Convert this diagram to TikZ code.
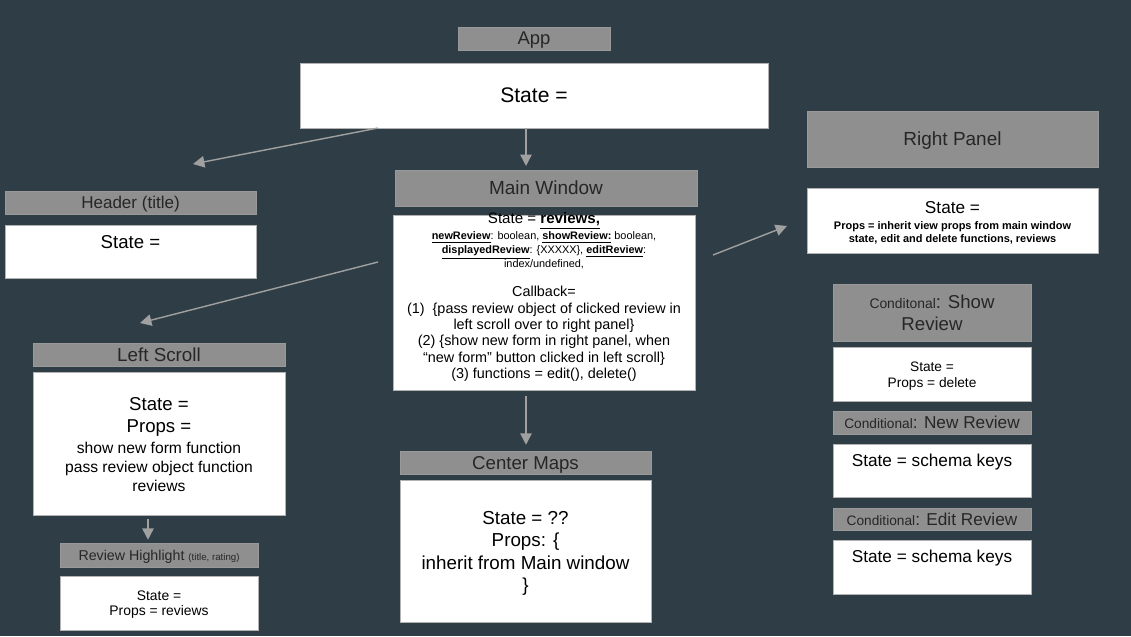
\documentclass[tikz,border=0pt]{standalone}
\usepackage{fontspec}
\setmainfont{Liberation Sans}
\usetikzlibrary{arrows.meta}
\definecolor{bgslate}{HTML}{2F3E46}
\definecolor{titlegray}{HTML}{8F8F8F}
\definecolor{arrowgray}{HTML}{A0A0A0}
\newcommand{\fs}[2]{\fontsize{#1}{#2}\selectfont}
\begin{document}
\begin{tikzpicture}[x=0.02cm,y=-0.02cm,
  titlebox/.style={fill=titlegray, draw=gray!80, line width=0.3pt, inner sep=0pt, text depth=0pt, text=black!85},
  bodybox/.style={fill=white, draw=gray!60, line width=0.3pt, inner sep=0pt, align=center},
  txt/.style={align=center, inner sep=0pt},
  arr/.style={draw=arrowgray, line width=0.8pt, -{Triangle[width=6.5pt,length=6.5pt]}}]
    \fill[bgslate] (0,0) rectangle (1131,636);
    \useasboundingbox (0,0) rectangle (1131,636);
% app
    \node (apptitle) at (534,38.5) [titlebox, minimum width=3.04cm, minimum height=0.46cm, font=\fs{10.5}{12}] {App};
    \node (appbox) at (534,95.5) [bodybox, minimum width=9.36cm, minimum height=1.30cm, font=\fs{12}{14}] {State =};
% header
    \node (headertitle) at (130.5,202.5) [titlebox, minimum width=5.02cm, minimum height=0.46cm, font=\fs{9.7}{12}] {Header (title)};
    \node (headerbox) at (130.5,251.5) [bodybox, minimum width=5.02cm, minimum height=1.06cm] {};
    \node (headerstate) at (130.5,242) [txt, font=\fs{10.6}{12}] {State =};
% main window
    \node (maintitle) at (546,188) [titlebox, minimum width=6.04cm, minimum height=0.72cm, font=\fs{10.8}{13}] {Main Window};
    \node (mainbox) at (544,302.5) [bodybox, minimum width=6.04cm, minimum height=3.50cm] {};
    \node (mainstate) at (544,220.5) [txt, font=\fs{8.6}{10}] {State = \textbf{\underline{reviews,}}};
    \node (mainfields) at (544,250.5) [txt, font=\fs{6.2}{7.9}] {\textbf{\underline{newReview}}: boolean, \textbf{\underline{showReview:}} boolean,\\ \textbf{\underline{displayedReview}}: \{XXXXX\}, \textbf{\underline{editReview}}:\\ index/undefined,};
    \node (maincallback) at (544,334) [txt, font=\fs{8.2}{9.35}] {Callback=\\ (1)\ \ \{pass review object of clicked review in\\ left scroll over to right panel\}\\ (2) \{show new form in right panel, when\\ “new form” button clicked in left scroll\}\\ (3) functions = edit(), delete()};
% right panel
    \node (righttitle) at (952.5,139) [titlebox, minimum width=5.82cm, minimum height=1.12cm, font=\fs{10.8}{13}] {Right Panel};
    \node (rightbox) at (952.5,220.5) [bodybox, minimum width=5.82cm, minimum height=1.30cm] {};
    \node (rightstate) at (952.5,208) [txt, font=\fs{9.8}{12}] {State =};
    \node (rightprops) at (952.5,232.5) [txt, font=\bfseries\fs{6.25}{7.4}] {Props = inherit view props from main window\\ state, edit and delete functions, reviews};
% left scroll
    \node (lefttitle) at (159,354.5) [titlebox, minimum width=5.04cm, minimum height=0.46cm, font=\fs{10.7}{13}] {Left Scroll};
    \node (leftbox) at (159,443.5) [bodybox, minimum width=5.04cm, minimum height=2.86cm] {};
    \node (leftstate) at (159,417) [txt, font=\fs{10.6}{12.5}] {State =\\ Props =};
    \node (leftprops) at (159,467) [txt, font=\fs{8.9}{10.8}] {show new form function\\ pass review object function\\ reviews};
    \node (hltitle) at (159,555) [titlebox, minimum width=3.96cm, minimum height=0.48cm, font=\fs{8.1}{10}] {Review Highlight {\fs{5.5}{7}(title, rating)}};
    \node (hlbox) at (159,603) [bodybox, minimum width=3.96cm, minimum height=1.08cm] {};
    \node (hltext) at (159,604.5) [txt, font=\fs{7.9}{9}] {State =\\ Props = reviews};
% center maps
    \node (maptitle) at (525.5,462.5) [titlebox, minimum width=5.02cm, minimum height=0.46cm, font=\fs{10.6}{13}] {Center Maps};
    \node (mapbox) at (525.5,551) [bodybox, minimum width=5.02cm, minimum height=2.84cm] {};
    \node (maptext) at (525.5,553.5) [txt, font=\fs{10.7}{12.8}] {State = ??\\ Props: \{\\ inherit from Main window\\ \}};
% conditionals
    \node (showtitle) at (932,312.5) [titlebox, align=center, minimum width=3.96cm, minimum height=1.14cm, font=\fs{10.6}{12.5}] {{\fs{7.9}{12.5}Conditonal}: Show\\ Review};
    \node (showbox) at (932,374) [bodybox, minimum width=3.96cm, minimum height=1.08cm] {};
    \node (showtext) at (932,376) [txt, font=\fs{7.8}{9}] {State =\\ Props = delete};
    \node (newtitle) at (932,422.5) [titlebox, minimum width=3.96cm, minimum height=0.46cm, font=\fs{9.8}{12}] {{\fs{7.8}{9}Conditional}: New Review};
    \node (newbox) at (932,470.5) [bodybox, minimum width=3.96cm, minimum height=1.06cm] {};
    \node (newstate) at (932,462) [txt, font=\fs{9.8}{12}] {State = schema keys};
    \node (edittitle) at (932,519) [titlebox, minimum width=3.96cm, minimum height=0.44cm, font=\fs{9.8}{12}] {{\fs{7.8}{9}Conditional}: Edit Review};
    \node (editbox) at (932,567) [bodybox, minimum width=3.96cm, minimum height=1.08cm] {};
    \node (editstate) at (932,558.5) [txt, font=\fs{9.8}{12}] {State = schema keys};
% arrows
    \coordinate (hdrtail) at (378,128);
    \coordinate (hdrtip) at (193,164);
    \coordinate (maintip) at (526,166);
    \coordinate (lefttail) at (378,262);
    \coordinate (lefttip) at (140,323);
    \coordinate (righttail) at (713,255);
    \coordinate (righttip) at (787,226);
    \coordinate (maptail) at (526,396);
    \coordinate (hltail) at (148,519);
    \draw[arr] (hdrtail) -- (hdrtip);
    \draw[arr] (appbox.south -| maintip) -- (maintip);
    \draw[arr] (lefttail) -- (lefttip);
    \draw[arr] (righttail) -- (righttip);
    \draw[arr, shorten >=1.2mm] (maptail) -- (maptail |- maptitle.north);
    \draw[arr, shorten >=0.6mm] (hltail) -- (hltail |- hltitle.north);
\end{tikzpicture}
\end{document}
